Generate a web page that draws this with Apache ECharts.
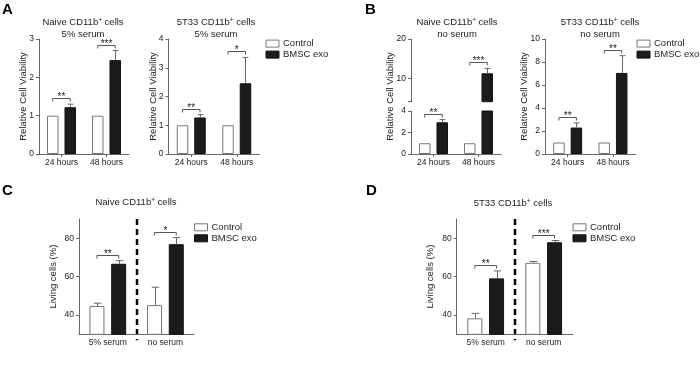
<!DOCTYPE html>
<html>
<head>
<meta charset="utf-8">
<script src="https://cdn.jsdelivr.net/npm/echarts@6/dist/echarts.min.js"></script>
<style>
  html, body { margin: 0; padding: 0; background: #fff; }
  #chart { width: 700px; height: 365px; }
</style>
</head>
<body>
<div id="chart"></div>
<script>
// categories
const hours = ['24 hours', '48 hours']
const serum = ['5% serum', 'no serum']
const groups = ['Control', 'BMSC exo']

// A: relative viability, 5% serum
const aNaiveCtrl = [1, 1]
const aNaiveCtrlSd = [0, 0]
const aNaiveExo = [1.22, 2.45]
const aNaiveExoSd = [0.08, 0.25]
const aNaiveSig = ['**', '***']

const aT33Ctrl = [1, 1]
const aT33CtrlSd = [0, 0]
const aT33Exo = [1.27, 2.46]
const aT33ExoSd = [0.1, 0.9]
const aT33Sig = ['**', '*']

// B: relative viability, no serum
const bNaiveCtrl = [1, 1]
const bNaiveCtrlSd = [0, 0]
const bNaiveExo = [2.95, 11.25]
const bNaiveExoSd = [0.25, 1.25]
const bNaiveSig = ['**', '***']

const bT33Ctrl = [1, 1]
const bT33CtrlSd = [0, 0]
const bT33Exo = [2.3, 7.05]
const bT33ExoSd = [0.4, 1.5]
const bT33Sig = ['**', '**']

// C / D: living cells (%)
const cCtrl = [44.7, 45.2]
const cCtrlSd = [1.5, 9.3]
const cExo = [66.7, 76.9]
const cExoSd = [1.6, 3.4]
const cSig = ['**', '*']

const dCtrl = [38.3, 67.2]
const dCtrlSd = [2.6, 0.7]
const dExo = [59.1, 77.9]
const dExoSd = [3.9, 0.9]
const dSig = ['**', '***']

const FONT = 'Liberation Sans, Arial, sans-serif'
const AXIS = '#666'
const TXT = '#222'

var myChart = echarts.init(document.getElementById('chart'), null, { renderer: 'canvas' })

function inY(y, cs) {
  return y >= cs.y - 0.6 && y <= cs.y + cs.height + 0.6
}

// 一对柱子 + 误差线 + 显著性标记
function pairSeries(gi, ctrl, ctrlSd, exo, exoSd, sig, bw, gap) {
  const off = bw * (1 + gap / 100) / 2
  const cap = bw / 4
  const bar = (name, data, color, border) => ({
    type: 'bar',
    name: name,
    data: data,
    xAxisIndex: gi,
    yAxisIndex: gi,
    barWidth: bw,
    barGap: gap + '%',
    silent: true,
    itemStyle: { color: color, borderColor: border, borderWidth: 1 },
  })
  const errData = []
  ctrl.forEach((v, i) => { if (ctrlSd[i] > 0) errData.push([i, v, v + ctrlSd[i], -1]) })
  exo.forEach((v, i) => { if (exoSd[i] > 0) errData.push([i, v, v + exoSd[i], 1]) })
  const sigData = ctrl.map((v, i) => [i, Math.max(v + ctrlSd[i], exo[i] + exoSd[i])])

  return [
    bar('Control', ctrl, '#fff', '#777'),
    bar('BMSC exo', exo, '#1b1b1b', '#111'),
    {
      type: 'custom',
      xAxisIndex: gi,
      yAxisIndex: gi,
      silent: true,
      z: 3,
      data: errData,
      renderItem: function (params, api) {
        const cs = params.coordSys
        const b = api.coord([api.value(0), api.value(1)])
        const e = api.coord([api.value(0), api.value(2)])
        if (!inY(b[1], cs) || !inY(e[1], cs)) return null
        const x = Math.round(b[0] + api.value(3) * off) + 0.5
        const st = { stroke: '#666', lineWidth: 1 }
        return {
          type: 'group',
          children: [
            { type: 'line', shape: { x1: x, y1: b[1], x2: x, y2: e[1] }, style: st },
            { type: 'line', shape: { x1: x - cap, y1: e[1], x2: x + cap, y2: e[1] }, style: st },
          ],
        }
      },
    },
    {
      type: 'custom',
      xAxisIndex: gi,
      yAxisIndex: gi,
      silent: true,
      z: 3,
      data: sigData,
      renderItem: function (params, api) {
        const cs = params.coordSys
        const p = api.coord([api.value(0), api.value(1)])
        if (!inY(p[1], cs)) return null
        const y = Math.round(p[1] - 6) + 0.5
        const x1 = p[0] - off
        const x2 = p[0] + off
        return {
          type: 'group',
          children: [
            {
              type: 'polyline',
              shape: { points: [[x1, y + 3], [x1, y], [x2, y], [x2, y + 3]] },
              style: { stroke: '#555', lineWidth: 1, fill: null },
            },
            {
              type: 'text',
              style: {
                text: sig[params.dataIndex],
                x: (x1 + x2) / 2,
                y: y - 1.5,
                align: 'center',
                verticalAlign: 'middle',
                fontSize: 10,
                fontFamily: FONT,
                fill: '#222',
              },
            },
          ],
        }
      },
    },
  ]
}

function xAx(gi, cats, ticks, show) {
  return {
    type: 'category',
    gridIndex: gi,
    data: cats,
    show: show !== false,
    axisLine: { lineStyle: { color: AXIS, width: 1 } },
    axisTick: { show: ticks, alignWithLabel: true, length: 3, lineStyle: { color: AXIS } },
    axisLabel: { fontSize: 8.5, color: TXT, margin: 4, fontFamily: FONT },
    splitLine: { show: false },
  }
}

function yAx(gi, min, max, ticks, name, gap) {
  return {
    type: 'value',
    gridIndex: gi,
    min: min,
    max: max,
    name: name || '',
    nameLocation: 'middle',
    nameGap: gap || 10,
    nameMoveOverlap: false,
    nameTextStyle: { fontSize: 9.5, color: TXT, fontFamily: FONT },
    axisLine: { show: true, lineStyle: { color: AXIS, width: 1 } },
    axisTick: { show: true, length: 3, lineStyle: { color: AXIS }, customValues: ticks },
    axisLabel: { fontSize: 8.5, color: TXT, margin: 5, fontFamily: FONT, customValues: ticks },
    splitLine: { show: false },
  }
}

const sup = { fontSize: 6.5, padding: [0, 0, 5, 0], fontFamily: FONT, color: TXT }

function ttl(text, x, y) {
  return {
    text: text,
    left: x,
    top: y,
    textAlign: 'center',
    padding: 0,
    textStyle: {
      fontSize: 9.5, fontWeight: 'normal', color: TXT, fontFamily: FONT, lineHeight: 11.5,
      rich: { sup: sup, n: { fontSize: 9.5, color: TXT, fontFamily: FONT, lineHeight: 11.5 } },
    },
  }
}

function letter(t, x, y) {
  return {
    text: t, left: x, top: y, padding: 0,
    textStyle: { fontSize: 15, fontWeight: 'bold', color: '#000', fontFamily: FONT },
  }
}

function lgd(x, y) {
  return {
    data: groups,
    orient: 'vertical',
    left: x,
    top: y,
    padding: 0,
    itemWidth: 13,
    itemHeight: 7,
    itemGap: 1,
    icon: 'rect',
    selectedMode: false,
    itemStyle: { borderWidth: 1 },
    textStyle: { fontSize: 9.5, color: TXT, fontFamily: FONT, padding: [0, 0, 0, -1] },
  }
}

const bw = 11.5
const bgap = 52
const cw = 15
const cgap = 45

var option = {
  animation: false,
  backgroundColor: '#fff',
  textStyle: { fontFamily: FONT },
  title: [
    letter('A', 2, 2),
    letter('B', 365, 2),
    letter('C', 2, 183),
    letter('D', 366, 183),
    ttl('{n|Naive CD11b}{sup|+}{n| cells}\n{n|5% serum}', 83, 17),
    ttl('{n|5T33 CD11b}{sup|+}{n| cells}\n{n|5% serum}', 216, 17),
    ttl('{n|Naive CD11b}{sup|+}{n| cells}\n{n|no serum}', 457, 17),
    ttl('{n|5T33 CD11b}{sup|+}{n| cells}\n{n|no serum}', 600, 17),
    ttl('{n|Naive CD11b}{sup|+}{n| cells}', 136, 197),
    ttl('{n|5T33 CD11b}{sup|+}{n| cells}', 513, 198),
  ],
  legend: [lgd(265.5, 38.6), lgd(636.5, 38.6), lgd(194, 222.3), lgd(572.5, 222.3)],
  grid: [
    { left: 39, top: 39, width: 90, height: 115 },
    { left: 168.5, top: 39, width: 91, height: 115 },
    { left: 411, top: 39, width: 90, height: 62.7 },
    { left: 411, top: 111, width: 90, height: 43 },
    { left: 545, top: 39, width: 90.6, height: 115 },
    { left: 79, top: 219, width: 115.2, height: 115.3 },
    { left: 456.7, top: 219, width: 116, height: 115.3 },
  ],
  xAxis: [
    xAx(0, hours, true),
    xAx(1, hours, true),
    xAx(2, hours, false, false),
    xAx(3, hours, true),
    xAx(4, hours, true),
    xAx(5, serum, false),
    xAx(6, serum, false),
  ],
  yAxis: [
    yAx(0, 0, 3, [0, 1, 2, 3], 'Relative Cell Viability', 10.5),
    yAx(1, 0, 4, [0, 1, 2, 3, 4], 'Relative Cell Viability', 10),
    Object.assign(yAx(2, 4, 20, [4, 10, 20]), {
      axisLabel: { fontSize: 8.5, color: TXT, margin: 5, fontFamily: FONT, customValues: [10, 20] },
    }),
    yAx(3, 0, 4, [0, 2, 4]),
    yAx(4, 0, 10, [0, 2, 4, 6, 8, 10], 'Relative Cell Viability', 16),
    yAx(5, 30, 90, [40, 60, 80], 'Living cells (%)', 21),
    yAx(6, 30, 90, [40, 60, 80], 'Living cells (%)', 21),
  ],
  series: [].concat(
    pairSeries(0, aNaiveCtrl, aNaiveCtrlSd, aNaiveExo, aNaiveExoSd, aNaiveSig, bw, bgap),
    pairSeries(1, aT33Ctrl, aT33CtrlSd, aT33Exo, aT33ExoSd, aT33Sig, bw, bgap),
    pairSeries(2, bNaiveCtrl, bNaiveCtrlSd, bNaiveExo, bNaiveExoSd, bNaiveSig, bw, bgap),
    pairSeries(3, bNaiveCtrl, bNaiveCtrlSd, bNaiveExo, bNaiveExoSd, bNaiveSig, bw, bgap),
    pairSeries(4, bT33Ctrl, bT33CtrlSd, bT33Exo, bT33ExoSd, bT33Sig, bw, bgap),
    pairSeries(5, cCtrl, cCtrlSd, cExo, cExoSd, cSig, cw, cgap),
    pairSeries(6, dCtrl, dCtrlSd, dExo, dExoSd, dSig, cw, cgap)
  ),
}

myChart.setOption(option)

// 虚线分隔 + B 左图纵轴名称
const extra = []
;[5, 6].forEach(function (gi) {
  const p0 = myChart.convertToPixel({ gridIndex: gi }, [0, 90])
  const p1 = myChart.convertToPixel({ gridIndex: gi }, [1, 30])
  const x = Math.round((p0[0] + p1[0]) / 2)
  extra.push({
    type: 'line',
    silent: true,
    shape: { x1: x, y1: p0[1], x2: x, y2: p1[1] + 6 },
    style: { stroke: '#000', lineWidth: 2.5, lineDash: [6, 4] },
  })
})
const bTop = myChart.convertToPixel({ gridIndex: 2 }, [0, 20])
const bBot = myChart.convertToPixel({ gridIndex: 3 }, [0, 0])
extra.push({
  type: 'text',
  silent: true,
  x: 390,
  y: (bTop[1] + bBot[1]) / 2,
  rotation: Math.PI / 2,
  style: {
    text: 'Relative Cell Viability',
    align: 'center',
    verticalAlign: 'middle',
    fontSize: 9.5,
    fontFamily: FONT,
    fill: TXT,
  },
})
myChart.setOption({ graphic: extra })
</script>
</body>
</html>
